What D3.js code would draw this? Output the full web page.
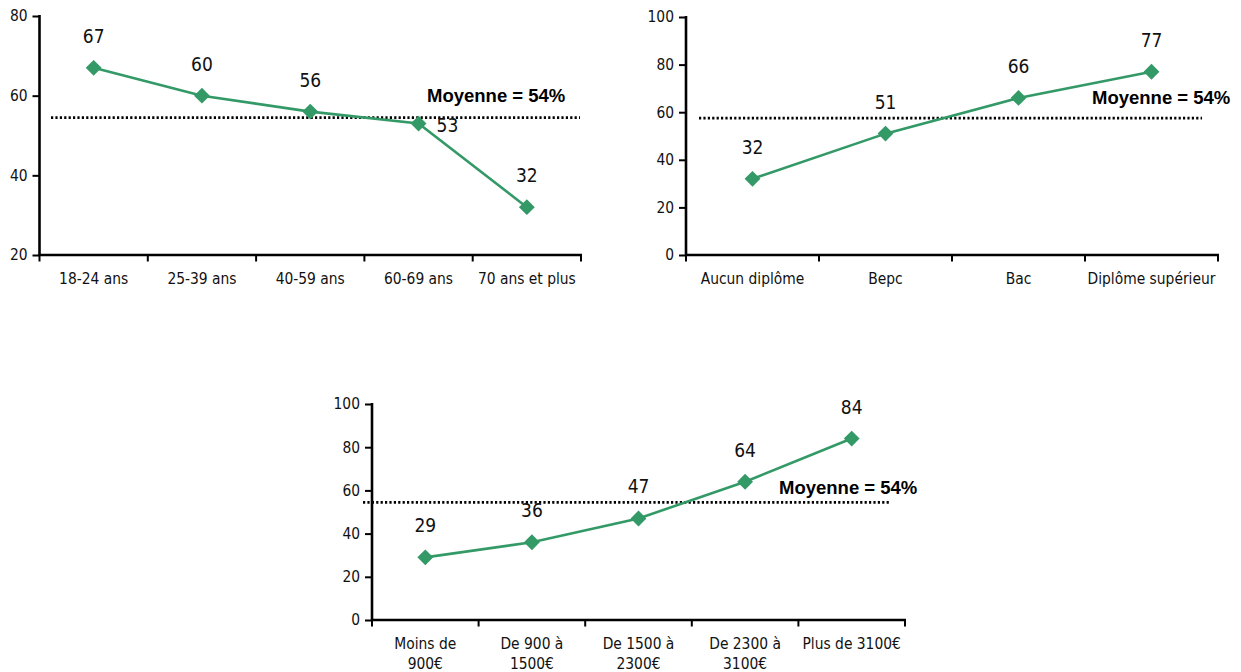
<!DOCTYPE html>
<html>
<head>
<meta charset="utf-8">
<script src="https://cdn.jsdelivr.net/npm/d3@7"></script>
<style>
  html, body { margin: 0; padding: 0; background: #fff; }
  svg { display: block; }
  .lbl { font-family: "DejaVu Sans Condensed", "DejaVu Sans", sans-serif; font-stretch: condensed; fill: #111; }
  .mean { font-family: "Liberation Sans", Arial, sans-serif; font-weight: bold; fill: #000; }
</style>
</head>
<body>
<svg id="chart" width="1241" height="672"></svg>
<script>
// ---- data ----
const ageCategories = ["18-24 ans", "25-39 ans", "40-59 ans", "60-69 ans", "70 ans et plus"];
const ageValues = [67, 60, 56, 53, 32];
const ageTicks = [20, 40, 60, 80];
const ageMeanLine = 54.5;

const diplomaCategories = ["Aucun diplôme", "Bepc", "Bac", "Diplôme supérieur"];
const diplomaValues = [32, 51, 66, 77];
const diplomaTicks = [0, 20, 40, 60, 80, 100];
const diplomaMeanLine = 57.5;

const incomeCategories = [["Moins de", "900€"], ["De 900 à", "1500€"], ["De 1500 à", "2300€"], ["De 2300 à", "3100€"], ["Plus de 3100€"]];
const incomeValues = [29, 36, 47, 64, 84];
const incomeTicks = [0, 20, 40, 60, 80, 100];
const incomeMeanLine = 54.5;

const meanLabel = "Moyenne = 54%";

// ---- drawing ----
const GREEN = "#339966";
const svg = d3.select("#chart");

function panel(cfg) {
  const g = svg.append("g");
  const x = d3.scaleBand().domain(d3.range(cfg.cats.length)).range([cfg.x0, cfg.x1]).padding(0);
  const y = d3.scaleLinear().domain(cfg.domain).range([cfg.yBottom, cfg.yTop]);

  // y axis
  const yAxis = d3.axisLeft(y).tickValues(cfg.ticks).tickSize(7).tickPadding(5).tickSizeOuter(0);
  const ya = g.append("g").attr("transform", `translate(${cfg.x0},0)`).call(yAxis);
  ya.select(".domain").remove();
  ya.selectAll(".tick line").attr("stroke", "#000").attr("stroke-width", 2);
  ya.selectAll(".tick text").attr("class", "lbl").style("font-size", "15.4px").attr("fill", "#111");
  g.append("line").attr("x1", cfg.x0).attr("x2", cfg.x0)
    .attr("y1", y(cfg.domain[1]) - 1).attr("y2", cfg.yBottom + 1)
    .attr("stroke", "#000").attr("stroke-width", 2.6);

  // x axis line and boundary ticks
  g.append("line").attr("x1", cfg.x0 - 1).attr("x2", cfg.x1 + 1)
    .attr("y1", cfg.yBottom).attr("y2", cfg.yBottom)
    .attr("stroke", "#000").attr("stroke-width", 2.6);
  const bounds = d3.range(cfg.cats.length + 1).map(i => cfg.x0 + i * x.step());
  g.selectAll(".xt").data(bounds).join("line")
    .attr("x1", d => d).attr("x2", d => d)
    .attr("y1", cfg.yBottom).attr("y2", cfg.yBottom + 6.5)
    .attr("stroke", "#000").attr("stroke-width", 2);

  // x labels
  cfg.cats.forEach((c, i) => {
    const lines = Array.isArray(c) ? c : [c];
    const t = g.append("text").attr("class", "lbl").style("font-size", "15.4px")
      .attr("text-anchor", "middle")
      .attr("x", x(i) + x.bandwidth() / 2)
      .attr("y", cfg.yBottom + 28.5);
    lines.forEach((ln, k) => {
      t.append("tspan").attr("x", x(i) + x.bandwidth() / 2).attr("dy", k === 0 ? 0 : 20).text(ln);
    });
  });

  // mean dotted line
  g.append("line").attr("x1", cfg.meanX0).attr("x2", cfg.meanX1)
    .attr("y1", y(cfg.mean)).attr("y2", y(cfg.mean))
    .attr("stroke", "#000").attr("stroke-width", 2.8).attr("stroke-dasharray", "2.2,2.2");

  // line
  const line = d3.line().x((d, i) => x(i) + x.bandwidth() / 2).y(d => y(d));
  g.append("path").datum(cfg.values).attr("d", line)
    .attr("fill", "none").attr("stroke", GREEN).attr("stroke-width", 2.6);

  // markers
  const sym = d3.symbol(d3.symbolSquare, 125);
  g.selectAll(".mk").data(cfg.values).join("path")
    .attr("d", sym)
    .attr("transform", (d, i) => `translate(${x(i) + x.bandwidth() / 2},${y(d)}) rotate(45)`)
    .attr("fill", GREEN);

  // value labels
  g.selectAll(".vl").data(cfg.values).join("text")
    .attr("class", "lbl").style("font-size", "19px")
    .attr("text-anchor", (d, i) => (cfg.rightLabel === i ? "start" : "middle"))
    .attr("x", (d, i) => x(i) + x.bandwidth() / 2 + (cfg.rightLabel === i ? 18 : 0))
    .attr("y", (d, i) => y(d) + (cfg.rightLabel === i ? 8.5 : -25))
    .text(d => d);

  // mean label
  g.append("text").attr("class", "mean").style("font-size", "18.5px")
    .attr("x", cfg.meanLabelX).attr("y", cfg.meanLabelY).text(meanLabel);
}

panel({ cats: ageCategories, values: ageValues, ticks: ageTicks, domain: [20, 80], mean: ageMeanLine,
  x0: 39.5, x1: 581, yTop: 16, yBottom: 255, meanX0: 51, meanX1: 580, meanLabelX: 427, meanLabelY: 102, rightLabel: 3 });

panel({ cats: diplomaCategories, values: diplomaValues, ticks: diplomaTicks, domain: [0, 100], mean: diplomaMeanLine,
  x0: 686, x1: 1218, yTop: 17, yBottom: 255, meanX0: 699, meanX1: 1202, meanLabelX: 1092, meanLabelY: 104, rightLabel: -1 });

panel({ cats: incomeCategories, values: incomeValues, ticks: incomeTicks, domain: [0, 100], mean: incomeMeanLine,
  x0: 372, x1: 905, yTop: 404, yBottom: 620, meanX0: 363, meanX1: 890, meanLabelX: 779, meanLabelY: 494, rightLabel: -1 });
</script>
</body>
</html>
